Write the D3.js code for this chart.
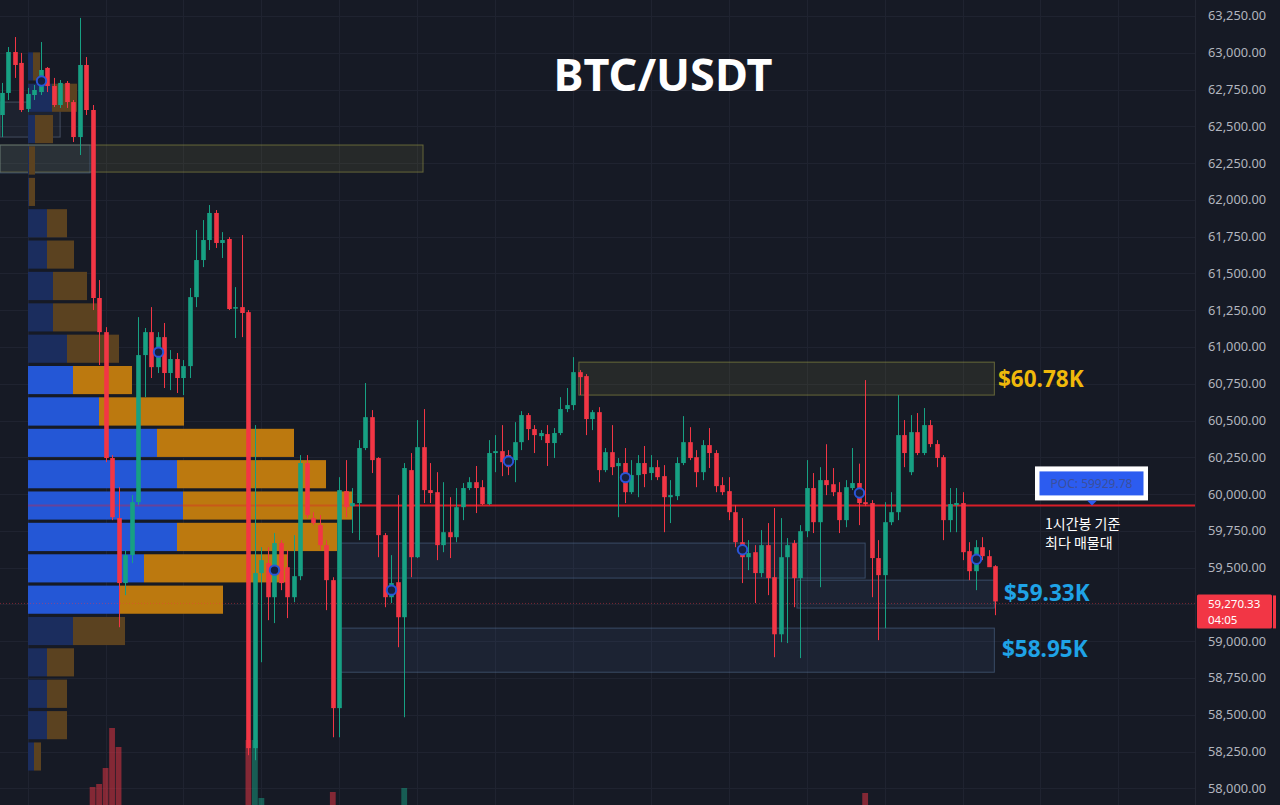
<!DOCTYPE html>
<html><head><meta charset="utf-8">
<script src="https://cdn.jsdelivr.net/npm/d3@7"></script>
<style>
html,body{margin:0;padding:0;background:#161a25;overflow:hidden;}
svg{display:block;}
</style></head><body>
<svg id="c" width="1280" height="805"></svg>
<script>
// ---------- DATA ----------
const opens=[62577,62727,63005,62931,62618,62713,62733,62897,62774,62645,
62795,62665,62427,62917,62611,61333,61101,60245,59837,59395,
59585,59945,60945,61101,60863,61067,60823,60918,60789,60870,
61339,61591,61727,61911,61707,61734,61265,61271,61237,58273,
59463,59531,59299,59667,59503,59299,59442,60211,59837,59789,
59653,59415,58545,60020,59918,59939,60313,60523,60245,59721,
59299,59401,59163,60163,59571,60319,60027,60013,59653,59741,
59707,59911,60041,60081,60047,59932,60279,60292,60265,60231,
60353,60537,60442,60394,60408,60347,60415,60578,60605,60829,
60802,60510,60557,60163,60285,60190,60211,60013,60129,60211,
60143,60183,60122,59979,59986,60211,60353,60251,60149,60333,
60279,60061,60020,59877,59673,59571,59605,59463,59653,59435,
59047,59571,59667,59429,59748,60041,59809,60095,60067,60013,
59823,60041,60075,59945,59939,59565,59449,59809,59877,60401,
60149,60421,60279,60469,60340,60251,59823,59925,59939,59612,
59476,59639,59578,59510];
const highs=[62795,63039,63107,62999,62761,62781,63073,62903,62829,62815,
62808,62679,63237,62971,62645,61455,61135,60265,60047,59619,
59993,61203,61129,61271,61101,61163,60979,60959,60911,61401,
61795,61863,61965,61931,61781,61747,61407,61761,61251,60469,
59639,59639,59735,59687,59619,59721,60265,60265,59877,59857,
59687,59435,60115,60231,60041,60367,60755,60571,60251,59735,
59585,59993,60211,60279,60503,60578,60211,60149,60081,59979,
60041,60075,60115,60191,60095,60367,60401,60469,60299,60489,
60564,60551,60469,60435,60469,60449,60659,60721,60931,60843,
60816,60571,60591,60313,60469,60245,60313,60231,60265,60327,
60265,60231,60197,60095,60251,60530,60455,60299,60367,60449,
60299,60115,60115,59925,59837,59687,59653,59755,59803,59905,
59837,59701,59687,59789,60231,60143,60183,60339,60177,60081,
60095,60313,60207,60775,59959,59687,59945,60013,60673,60503,
60537,60551,60585,60503,60367,60265,60041,60041,60013,59673,
59687,59707,59619,59517];
const lows=[62427,62679,62829,62597,62597,62679,62713,62733,62631,62625,
62625,62393,62305,62577,61251,60877,60217,59823,59095,59313,
59531,59925,60659,60789,60823,60721,60707,60687,60673,60789,
61271,61543,61659,61673,61605,61251,61061,61067,58225,58191,
58857,59143,59123,59347,59157,59265,59415,59837,59789,59619,
59211,58347,58347,59843,59735,59687,60299,60143,59571,59231,
59259,58959,58483,59435,59565,59939,59939,59551,59605,59565,
59673,59823,60027,59871,59925,59925,60149,60122,60129,60081,
60299,60367,60279,60367,60191,60245,60401,60557,60571,60673,
60401,60435,60081,60149,60129,59843,59939,60000,59979,60047,
60095,60095,59741,59803,59959,60197,60231,60047,60095,60177,
60013,59993,59823,59639,59395,59483,59259,59435,59313,58891,
58993,58987,59231,58885,59707,59735,59367,59993,59986,59735,
59775,60027,59789,59918,59299,59007,59089,59789,59823,60183,
60129,60265,60265,60319,60183,59687,59741,59741,59551,59415,
59347,59551,59531,59177];
const closes=[62727,63005,62917,62611,62720,62747,62883,62774,62645,62795,
62665,62427,62917,62611,61333,61101,60245,59843,59395,59585,
59945,60945,61101,60863,61067,60823,60918,60789,60870,61339,
61591,61727,61911,61707,61727,61258,61271,61231,58273,59463,
59551,59299,59667,59395,59299,59442,60211,59857,59803,59653,
59415,58545,60027,59911,59939,60313,60523,60231,59721,59299,
59395,59163,60177,59571,60319,60027,60007,59653,59741,59707,
59911,60041,60081,60041,59932,60279,60292,60217,60183,60353,
60537,60442,60401,60415,60347,60415,60578,60605,60829,60795,
60510,60557,60163,60285,60183,60211,60013,60129,60211,60136,
60183,60115,59979,59993,60211,60353,60245,60149,60333,60279,
60054,60013,59877,59673,59571,59599,59463,59653,59429,59047,
59571,59653,59429,59748,60041,59809,60095,60061,60013,59823,
60047,60075,59939,59932,59565,59449,59809,59877,60401,60279,
60421,60279,60469,60340,60245,59823,59932,59939,59605,59476,
59639,59578,59503,59270.33];
const volumes=[42,38,45,40,36,33,44,39,35,37,
41,46,55,48,250,280,440,840,650,58,
52,60,47,44,39,42,36,38,35,50,
54,48,46,43,37,52,40,45,720,720,
140,55,50,44,47,41,58,53,40,38,
45,200,60,48,36,52,49,46,55,51,
44,57,240,50,54,47,38,49,42,40,
45,39,33,41,37,48,36,40,35,43,
46,38,34,31,37,35,44,39,50,36,
47,33,52,40,38,42,45,36,39,41,
34,37,44,39,42,48,40,38,43,36,
41,35,46,49,53,38,44,40,47,58,
55,42,45,52,49,44,47,39,36,41,
38,40,46,190,56,52,54,37,50,43,
39,41,44,38,40,51,42,36,48,45,
43,38,41,57];
const markerIdx=[6,24,42,60,78,96,114,132,150];
const priceTicks=[58000,58250,58500,58750,59000,59250,59500,59750,60000,60250,60500,60750,61000,61250,61500,61750,62000,62250,62500,62750,63000,63250];

// volume profile (bottom bin -> top bin)
const profileBinLow=[58109,58322,58535,58749,58962,59175,59388,59601,59815,60028,60241,60454,60668,60881,61094,61307,61521,61734,61947,62160,62374,62587,62800];
const profileBinHigh=[58322,58535,58749,58962,59175,59388,59601,59815,60028,60241,60454,60668,60881,61094,61307,61521,61734,61947,62160,62374,62587,62800,63013];
const profileBuy=[60,190,190,190,450,910,1160,1490,1550,1490,1290,710,450,390,250,250,190,190,10,10,70,240,50];
const profileSell=[70,200,200,270,520,1040,1440,1600,1690,1490,1370,850,590,520,440,340,270,200,60,60,180,250,70];
const valueAreaLow=59175, valueAreaHigh=60881;
const pocPrice=59929.78;
const lastPrice=59270.33;

// zones: [startIndex, endIndex, lowPrice, highPrice, kind]
const zoneStart=[-0.26,88.9,52.1,122.5,52.1,-0.26,-0.26];
const zoneEnd=[64.9,152.9,133,152.9,152.9,9,13.6];
const zoneLow=[62189,60673,59429,59225,58789,62427,62183];
const zoneHigh=[62373,60897,59667,59415,59089,62665,62373];
const zoneKind=["y","y","b","b","b","g","b"];

const levelLabels=["$60.78K","$59.33K","$58.95K"];
const levelPrices=[60785,59330,58950];
const levelColors=["#f0b90b","#1fa3e6","#1fa3e6"];

// ---------- CHART ----------
const svg=d3.select('#c');
const plotRight=1195;
const x=d3.scaleLinear().domain([0,153]).range([1.7,995]);
const y=d3.scaleLinear().domain([58000,63250]).range([788.3,16]);
const yVol=d3.scaleLinear().domain([0,1000]).range([812,712]);
const xProf=d3.scaleLinear().domain([0,3300]).range([0,330]);
const profX0=28;
const green="#17a083", red="#f23645";

svg.append('rect').attr('width',1280).attr('height',805).attr('fill','#161a25');

// grid
const gGrid=svg.append('g');
gGrid.selectAll('line.h').data(priceTicks).join('line')
 .attr('x1',0).attr('x2',plotRight).attr('y1',d=>Math.round(y(d))+0.5).attr('y2',d=>Math.round(y(d))+0.5)
 .attr('stroke','#1f2330').attr('stroke-width',1);
const vIdx=d3.range(4,190,12);
gGrid.selectAll('line.v').data(vIdx.filter(i=>x(i)<plotRight)).join('line')
 .attr('x1',d=>Math.round(x(d))+0.5).attr('x2',d=>Math.round(x(d))+0.5).attr('y1',0).attr('y2',805)
 .attr('stroke','#1f2330').attr('stroke-width',1);
svg.append('line').attr('x1',plotRight+0.5).attr('x2',plotRight+0.5).attr('y1',0).attr('y2',805).attr('stroke','#232733');

// zones
const zoneIdx=d3.range(zoneStart.length);
svg.append('g').selectAll('rect').data(zoneIdx).join('rect')
 .attr('x',i=>x(zoneStart[i])).attr('width',i=>x(zoneEnd[i])-x(zoneStart[i]))
 .attr('y',i=>y(zoneHigh[i])).attr('height',i=>y(zoneLow[i])-y(zoneHigh[i]))
 .attr('fill',i=>zoneKind[i]==="y"?"rgba(150,150,70,0.13)":zoneKind[i]==="g"?"rgba(120,140,170,0.08)":"rgba(70,110,160,0.12)")
 .attr('stroke',i=>zoneKind[i]==="y"?"rgba(150,150,70,0.6)":zoneKind[i]==="g"?"rgba(110,125,150,0.5)":"rgba(90,120,160,0.5)")
 .attr('stroke-width',1);

// volume bars
const idx=d3.range(opens.length);
svg.append('g').selectAll('rect').data(idx).join('rect')
 .attr('x',i=>x(i)-2.9).attr('width',5.8)
 .attr('y',i=>yVol(volumes[i])).attr('height',i=>Math.max(0,yVol(0)-yVol(volumes[i])))
 .attr('fill',i=>closes[i]>=opens[i]?'rgba(23,160,131,0.5)':'rgba(242,54,69,0.5)');

// volume profile
const pIdx=d3.range(profileBuy.length);
const gP=svg.append('g');
const inVA=i=>profileBinLow[i]>=valueAreaLow-1 && profileBinHigh[i]<=valueAreaHigh+1;
gP.selectAll('rect.b').data(pIdx).join('rect')
 .attr('x',profX0).attr('width',i=>xProf(profileBuy[i]))
 .attr('y',i=>y(profileBinHigh[i])+1.5).attr('height',i=>y(profileBinLow[i])-y(profileBinHigh[i])-3.2)
 .attr('fill',i=>inVA(i)?'#2457d6':'#1b2d5e');
gP.selectAll('rect.s').data(pIdx).join('rect')
 .attr('x',i=>profX0+xProf(profileBuy[i])).attr('width',i=>xProf(profileSell[i]))
 .attr('y',i=>y(profileBinHigh[i])+1.5).attr('height',i=>y(profileBinLow[i])-y(profileBinHigh[i])-3.2)
 .attr('fill',i=>inVA(i)?'#bc790f':'#5b4220');

// POC line
svg.append('line').attr('x1',profX0).attr('x2',352).attr('y1',y(pocPrice)+1).attr('y2',y(pocPrice)+1)
 .attr('stroke','#e0202c').attr('stroke-width',2).attr('opacity',0.35);
svg.append('line').attr('x1',352).attr('x2',plotRight).attr('y1',y(pocPrice)+1).attr('y2',y(pocPrice)+1)
 .attr('stroke','#d81e28').attr('stroke-width',2);

// last price dotted line
svg.append('line').attr('x1',0).attr('x2',plotRight).attr('y1',y(lastPrice)+2).attr('y2',y(lastPrice)+2)
 .attr('stroke','rgba(242,54,69,0.45)').attr('stroke-width',1).attr('stroke-dasharray','1,2');

// candles
const gC=svg.append('g');
gC.selectAll('line').data(idx).join('line')
 .attr('x1',i=>Math.round(x(i))+0.5).attr('x2',i=>Math.round(x(i))+0.5)
 .attr('y1',i=>y(highs[i])).attr('y2',i=>y(lows[i]))
 .attr('stroke',i=>closes[i]>=opens[i]?green:red).attr('stroke-width',1);
gC.selectAll('rect').data(idx).join('rect')
 .attr('x',i=>Math.round(x(i))+0.5-2.3).attr('width',4.6)
 .attr('y',i=>y(Math.max(opens[i],closes[i])))
 .attr('height',i=>Math.max(1.5,Math.abs(y(opens[i])-y(closes[i]))))
 .attr('fill',i=>closes[i]>=opens[i]?green:red);

// markers
svg.append('g').selectAll('circle').data(markerIdx).join('circle')
 .attr('cx',i=>Math.round(x(i))+0.5).attr('cy',i=>y((opens[i]+closes[i])/2))
 .attr('r',4.7).attr('fill','#16203f').attr('stroke','#2a55d8').attr('stroke-width',2);

// right axis (labels hidden under the last-price tag are skipped, as on the platform)
const ly=y(lastPrice);
const axisG=svg.append('g');
axisG.selectAll('text').data(priceTicks.filter(d=>{const t=y(d);return t<ly-16||t>ly+33;})).join('text')
 .attr('x',1208).attr('y',d=>y(d)).attr('dy','0.35em')
 .attr('fill','#b2b5be').attr('font-family','"Noto Sans", Roboto, sans-serif').attr('font-size',12.8)
 .text(d=>d3.format(',.2f')(d));

// last price label
svg.append('rect').attr('x',1197).attr('y',ly-7).attr('width',75).attr('height',34).attr('rx',1.5).attr('fill','#f23645');
svg.append('rect').attr('x',1273).attr('y',ly-6).attr('width',3).attr('height',33).attr('fill','#f23645');
svg.append('text').attr('x',1208).attr('y',ly+3).attr('dy','0.35em').attr('fill','#ffffff')
 .attr('font-family','"Noto Sans", Roboto, sans-serif').attr('font-size',11.5).text(d3.format(',.2f')(lastPrice));
svg.append('text').attr('x',1208).attr('y',ly+19).attr('dy','0.35em').attr('fill','#ffffff')
 .attr('font-family','"Noto Sans", Roboto, sans-serif').attr('font-size',11.5).text('04:05');

// level labels
svg.append('g').selectAll('text').data(d3.range(levelLabels.length)).join('text')
 .attr('x',(i)=>[998,1004,1002][i]).attr('y',i=>y(levelPrices[i])).attr('dy','0.36em')
 .attr('fill',i=>levelColors[i]).attr('font-family','"Noto Sans", sans-serif').attr('font-weight','bold').attr('font-size',22.5)
 .text(i=>levelLabels[i]);

// POC box
const py=y(pocPrice);
svg.append('rect').attr('x',1035).attr('y',py-38).attr('width',113).attr('height',34).attr('fill','#ffffff');
svg.append('rect').attr('x',1039.5).attr('y',py-33).attr('width',104).attr('height',24).attr('fill','#2c5cf0');
svg.append('path').attr('d',`M${1087},${py-4} L${1097},${py-4} L${1092},${py+1} Z`).attr('fill','#2c5cf0');
svg.append('text').attr('x',1091.5).attr('y',py-21).attr('dy','0.35em').attr('text-anchor','middle')
 .attr('fill','#3b4f9c').attr('font-family','"Noto Sans", sans-serif').attr('font-size',12).text('POC: '+pocPrice.toFixed(2));

// note
svg.append('text').attr('x',1045).attr('y',py+25).attr('fill','#ffffff')
 .attr('font-family','"Noto Sans CJK KR", sans-serif').attr('font-size',14).text('1시간봉 기준');
svg.append('text').attr('x',1045).attr('y',py+44).attr('fill','#ffffff')
 .attr('font-family','"Noto Sans CJK KR", sans-serif').attr('font-size',14).text('최다 매물대');

// title
svg.append('text').attr('x',663).attr('y',91).attr('text-anchor','middle').attr('fill','#ffffff')
 .attr('font-family','"Noto Sans", sans-serif').attr('font-weight','bold').attr('font-size',45).text('BTC/USDT');
</script>
</body></html>
